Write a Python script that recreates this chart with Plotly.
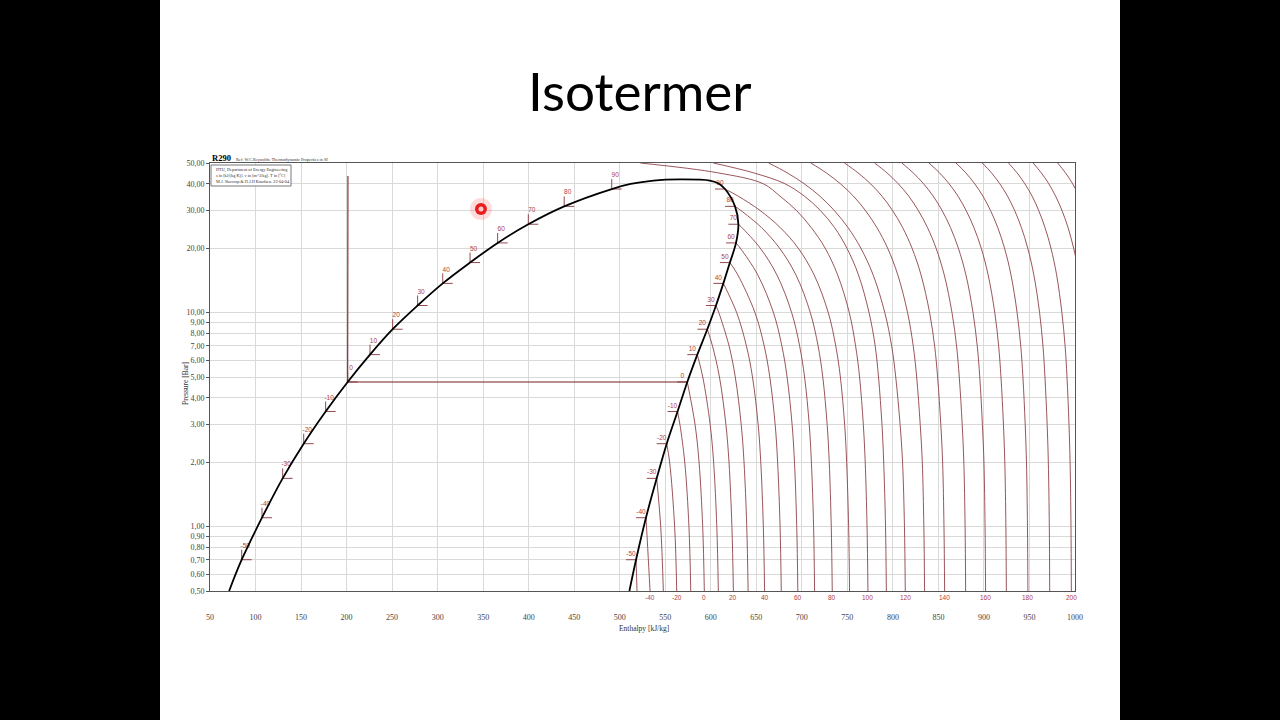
import plotly.graph_objects as go

# ---------------- data ----------------
x_ticks = [50, 100, 150, 200, 250, 300, 350, 400, 450, 500, 550, 600, 650, 700, 750, 800, 850, 900, 950, 1000]
y_ticks = [0.5, 0.6, 0.7, 0.8, 0.9, 1, 2, 3, 4, 5, 6, 7, 8, 9, 10, 20, 30, 40, 50]
y_tick_text = ["0,50", "0,60", "0,70", "0,80", "0,90", "1,00", "2,00", "3,00", "4,00", "5,00",
               "6,00", "7,00", "8,00", "9,00", "10,00", "20,00", "30,00", "40,00", "50,00"]

# saturation (°C, bar, kJ/kg)
sat_T = [-50, -40, -30, -20, -10, 0, 10, 20, 30, 40, 50, 60, 70, 80, 90]
sat_P = [0.70, 1.10, 1.68, 2.44, 3.45, 4.74, 6.36, 8.36, 10.79, 13.69, 17.13, 21.16, 25.87, 31.36, 37.79]
sat_hl = [84.8, 107.1, 129.8, 152.9, 177.0, 201.2, 225.7, 250.6, 278.0, 305.6, 335.6, 365.9, 399.6, 439.0, 491.2]
sat_hv = [517.9, 528.8, 540.6, 551.6, 563.5, 574.2, 585.2, 596.2, 605.7, 613.8, 621.0, 627.7, 630.3, 626.6, 615.6]
dome_top_h = [512, 537, 566, 599, 608]
dome_top_P = [39.9, 41.4, 41.9, 41.4, 40.2]
dome_liq_bottom = (71.0, 0.5)
dome_vap_bottom = (510.6, 0.5)

# 0 °C isotherm in liquid and two phase region
iso0_liq_h = [201.2, 201.5]
iso0_liq_P = [4.74, 43.5]

# superheated isotherms: h [kJ/kg] at the pressure grid (from 0.5 bar upwards)
P_grid = [0.5, 1, 2, 3, 5, 7, 10, 15, 20, 25, 30, 35, 40, 45, 50]
iso_m50 = [519.0]
iso_m40 = [533.3, 529.4]
iso_m30 = [547.9, 545.0]
iso_m20 = [562.6, 560.3, 554.8]
iso_m10 = [578.0, 576.0, 571.4, 566.1]
iso_p0 = [592.9, 591.1, 587.1, 582.7]
iso_p10 = [608.3, 606.6, 603.1, 599.3, 591.2]
iso_p20 = [624.8, 623.2, 620.0, 616.6, 609.5, 601.8]
iso_p30 = [641.0, 639.5, 636.5, 633.4, 626.9, 620.0, 608.8]
iso_p40 = [659.1, 657.7, 654.9, 652.0, 645.8, 639.1, 628.4]
iso_p50 = [677.4, 676.1, 673.4, 670.7, 664.8, 658.6, 648.5, 629.7]
iso_p60 = [695.6, 694.4, 691.9, 689.3, 683.8, 678.0, 668.8, 651.6, 632.4]
iso_p70 = [714.0, 712.9, 710.5, 708.1, 703.0, 697.5, 688.8, 672.6, 654.3, 634.0]
iso_p80 = [733.4, 732.3, 730.1, 727.8, 723.0, 717.8, 709.3, 693.5, 675.5, 655.5, 633.0]
iso_p90 = [752.4, 751.4, 749.2, 747.0, 742.3, 737.2, 729.0, 713.5, 696.0, 676.1, 654.1, 630.1]
iso_p100 = [772.6, 771.6, 769.6, 767.5, 763.4, 759.0, 752.1, 739.3, 725.6, 710.2, 694.1, 676.0, 657.6, 607.6, 522.6]
iso_p110 = [792.8, 791.9, 789.9, 788.0, 784.2, 780.5, 773.8, 762.2, 749.5, 735.8, 720.3, 702.8, 681.4, 646.8, 602.8]
iso_p120 = [813.6, 812.7, 810.6, 807.9, 803.1, 798.6, 791.1, 778.3, 764.8, 750.6, 735.6, 719.8, 702.6, 683.8, 663.6]
iso_p130 = [834.8, 834.0, 832.3, 830.0, 826.1, 822.3, 816.1, 805.4, 794.2, 782.3, 769.8, 756.7, 742.3, 726.7, 709.8]
iso_p140 = [856.8, 856.1, 854.6, 852.6, 849.1, 845.8, 840.3, 830.9, 821.0, 810.6, 799.6, 788.0, 775.4, 761.6, 746.8]
iso_p150 = [879.9, 879.3, 877.9, 876.1, 872.9, 869.9, 864.9, 856.4, 847.4, 837.9, 827.9, 817.4, 805.9, 793.4, 779.9]
iso_p160 = [901.8, 901.2, 900.0, 898.3, 895.4, 892.6, 888.0, 880.2, 871.9, 863.2, 854.0, 844.3, 833.7, 822.2, 809.8]
iso_p170 = [924.6, 924.1, 922.9, 921.4, 918.7, 916.1, 911.9, 904.6, 897.0, 888.9, 880.4, 871.5, 861.7, 851.1, 839.6]
iso_p180 = [948.3, 947.8, 946.7, 945.3, 942.8, 940.4, 936.4, 929.7, 922.6, 915.1, 907.2, 898.9, 889.8, 880.0, 869.3]
iso_p190 = [972.2, 971.8, 970.7, 969.4, 967.0, 964.8, 961.1, 954.8, 948.1, 941.1, 933.7, 925.9, 917.4, 908.2, 898.2]
iso_p200 = [996.0, 995.6, 994.6, 993.4, 991.2, 989.1, 985.6, 979.8, 973.6, 967.0, 960.1, 952.9, 944.9, 936.3, 927.0]
iso_p210 = [1020.0, 1019.6, 1018.6, 1017.5, 1015.4, 1013.4, 1010.1, 1004.5, 998.5, 992.3, 985.7, 978.7, 971.2, 962.9, 954.0]
iso_p220 = [1044.0, 1043.6, 1042.7, 1041.6, 1039.6, 1037.7, 1034.6, 1029.3, 1023.5, 1017.5, 1011.2, 1004.6, 997.4, 989.5, 981.0]
iso_p230 = [1068.0, 1067.6, 1066.7, 1065.7, 1063.8, 1062.0, 1059.0, 1053.9, 1048.4, 1042.7, 1036.8, 1030.5, 1023.6, 1016.1, 1008.0]

iso_T = [-50, -40, -30, -20, -10, 0, 10, 20, 30, 40, 50, 60, 70, 80, 90,
         100, 110, 120, 130, 140, 150, 160, 170, 180, 190, 200, 210, 220, 230]
iso_lists = [iso_m50, iso_m40, iso_m30, iso_m20, iso_m10, iso_p0, iso_p10, iso_p20, iso_p30,
             iso_p40, iso_p50, iso_p60, iso_p70, iso_p80, iso_p90, iso_p100, iso_p110, iso_p120,
             iso_p130, iso_p140, iso_p150, iso_p160, iso_p170, iso_p180, iso_p190, iso_p200,
             iso_p210, iso_p220, iso_p230]

bottom_label_T = [-40, -20, 0, 20, 40, 60, 80, 100, 120, 140, 160, 180, 200]

cursor_h, cursor_P = 347.6, 30.5

# ---------------- geometry helpers ----------------
W, H = 1280, 720
L, R, T, B = 210, 205, 163, 129          # plot area 210..1075 x 163..591
PW, PH = W - L - R, H - T - B
X0, X1 = 50, 1000
PX_PER_H = PW / (X1 - X0)
PX_PER_DEC = PH / 2.0


def px(xpix):
    return (xpix - L) / PW


def py(ypix):
    return (T + PH - ypix) / PH


def dh(pixels):
    return pixels / PX_PER_H


def fP(pixels):
    return 10 ** (pixels / PX_PER_DEC)


ISO_COL = "rgb(135,55,60)"
LAB_COL = "rgb(175,65,65)"
TXT_FONT = "Liberation Serif"

fig = go.Figure()

# isotherms in superheated region
for t, hs in zip(iso_T, iso_lists):
    xs, ys = [], []
    for p, h in zip(P_grid, hs):
        xs.append(h)
        ys.append(p)
    if t in sat_T:
        i = sat_T.index(t)
        xs.append(sat_hv[i])
        ys.append(sat_P[i])
    fig.add_trace(go.Scatter(x=xs, y=ys, mode="lines", line=dict(color=ISO_COL, width=0.85, shape="spline"),
                             hoverinfo="skip", showlegend=False))

# 0 °C isotherm (liquid + two phase)
i0 = sat_T.index(0)
fig.add_trace(go.Scatter(x=iso0_liq_h[::-1] + [sat_hv[i0]], y=iso0_liq_P[::-1] + [sat_P[i0]], mode="lines",
                         line=dict(color="rgb(120,30,35)", width=1.1), hoverinfo="skip", showlegend=False))

# liquid side ticks (L shapes) + labels
tx, ty = [], []
for h, p in zip(sat_hl, sat_P):
    tx += [h, h, None, h, h + dh(10), None]
    ty += [p * fP(10), p, None, p, p, None]
fig.add_trace(go.Scatter(x=tx, y=ty, mode="lines", line=dict(color=ISO_COL, width=0.9),
                         hoverinfo="skip", showlegend=False))
fig.add_trace(go.Scatter(x=[h + dh(3.5) for h in sat_hl], y=[p * fP(13.5) for p in sat_P],
                         text=[str(t) for t in sat_T], mode="text",
                         textfont=dict(family="Liberation Sans", size=6.5, color=LAB_COL),
                         hoverinfo="skip", showlegend=False))

# vapour side underlines + labels
ux, uy = [], []
for h, p in zip(sat_hv, sat_P):
    ux += [h - dh(10), h, None]
    uy += [p, p, None]
fig.add_trace(go.Scatter(x=ux, y=uy, mode="lines", line=dict(color=ISO_COL, width=0.9),
                         hoverinfo="skip", showlegend=False))
fig.add_trace(go.Scatter(x=[h - dh(5) for h in sat_hv], y=[p * fP(5.5) for p in sat_P],
                         text=[str(t) for t in sat_T], mode="text",
                         textfont=dict(family="Liberation Sans", size=6.5, color=LAB_COL),
                         hoverinfo="skip", showlegend=False))

# saturation dome
dome_h = [dome_liq_bottom[0]] + sat_hl + dome_top_h + sat_hv[::-1] + [dome_vap_bottom[0]]
dome_P = [dome_liq_bottom[1]] + sat_P + dome_top_P + sat_P[::-1] + [dome_vap_bottom[1]]
fig.add_trace(go.Scatter(x=dome_h, y=dome_P, mode="lines", line=dict(color="black", width=1.8, shape="spline"),
                         hoverinfo="skip", showlegend=False))

# cursor highlight
fig.add_trace(go.Scatter(x=[cursor_h], y=[cursor_P], mode="markers",
                         marker=dict(size=22, color="rgba(255,60,60,0.18)", line=dict(width=0)),
                         hoverinfo="skip", showlegend=False))
fig.add_trace(go.Scatter(x=[cursor_h], y=[cursor_P], mode="markers",
                         marker=dict(size=12, color="rgb(230,30,30)", line=dict(width=0)),
                         hoverinfo="skip", showlegend=False))
fig.add_trace(go.Scatter(x=[cursor_h], y=[cursor_P], mode="markers",
                         marker=dict(size=5, color="rgb(255,200,200)", line=dict(width=0)),
                         hoverinfo="skip", showlegend=False))

annotations = []
# bottom isotherm labels
for t in bottom_label_T:
    hb = iso_lists[iso_T.index(t)][0]
    annotations.append(dict(x=hb, y=0, xref="x", yref="paper", yshift=-6, yanchor="middle",
                            xanchor="center", text=str(t), showarrow=False,
                            font=dict(family="Liberation Sans", size=6.5, color=LAB_COL)))


def txt(xpix, ypix, text, size, family=TXT_FONT, color="#333", xanchor="center", angle=0):
    return dict(x=px(xpix), y=py(ypix), xref="paper", yref="paper", text=text, showarrow=False,
                xanchor=xanchor, yanchor="middle", textangle=angle,
                font=dict(family=family, size=size, color=color))


annotations += [
    txt(640, 91, "Isotermer", 53, family="Lato", color="black"),
    txt(185, 384, "Pressure [Bar]", 7.5, angle=-90),
    txt(644, 628, "Enthalpy [kJ/kg]", 7.5),
    txt(210, 158, "<b>R290</b>", 8.5, color="black", xanchor="left"),
    txt(234, 159, "Ref: W.C.Reynolds: Thermodynamic Properties in SI", 4.3, xanchor="left"),
    txt(214, 169.5, "DTU, Department of Energy Engineering", 4.3, xanchor="left"),
    txt(214, 175.5, "s in [kJ/(kg K)]. v in [m^3/kg]. T in [ºC]", 4.3, xanchor="left"),
    txt(214, 181.5, "M.J. Skovrup & H.J.H Knudsen. 22-04-04", 4.3, xanchor="left"),
]

shapes = [
    dict(type="rect", xref="paper", yref="paper", x0=px(-5), x1=px(160), y0=py(725), y1=py(-5),
         fillcolor="black", line=dict(width=0), layer="below"),
    dict(type="rect", xref="paper", yref="paper", x0=px(1120), x1=px(1285), y0=py(725), y1=py(-5),
         fillcolor="black", line=dict(width=0), layer="below"),
    dict(type="rect", xref="paper", yref="paper", x0=px(211), x1=px(291), y0=py(186), y1=py(165),
         fillcolor="white", line=dict(color="#555", width=0.8), layer="above"),
]

fig.update_layout(
    width=W, height=H, margin=dict(l=L, r=R, t=T, b=B),
    paper_bgcolor="white", plot_bgcolor="white",
    showlegend=False, annotations=annotations, shapes=shapes,
    xaxis=dict(range=[X0, X1], tickvals=x_ticks, ticktext=[str(v) for v in x_ticks],
               showgrid=True, gridcolor="#d9d9d9", gridwidth=1, zeroline=False,
               showline=True, linecolor="#555", linewidth=1, mirror=True, ticks="",
               ticklabelstandoff=18, tickfont=dict(family=TXT_FONT, size=8, color="#444")),
    yaxis=dict(type="log", range=[-0.30103, 1.69897], tickvals=y_ticks, ticktext=y_tick_text,
               showgrid=True, gridcolor="#d9d9d9", gridwidth=1, zeroline=False,
               showline=True, linecolor="#555", linewidth=1, mirror=True,
               ticks="outside", ticklen=3, tickcolor="#555",
               tickfont=dict(family=TXT_FONT, size=8, color="#444")),
)

fig.write_html("out.html", config={"displayModeBar": False},
               post_script="document.body.style.margin='0px';document.body.style.overflow='hidden';")
